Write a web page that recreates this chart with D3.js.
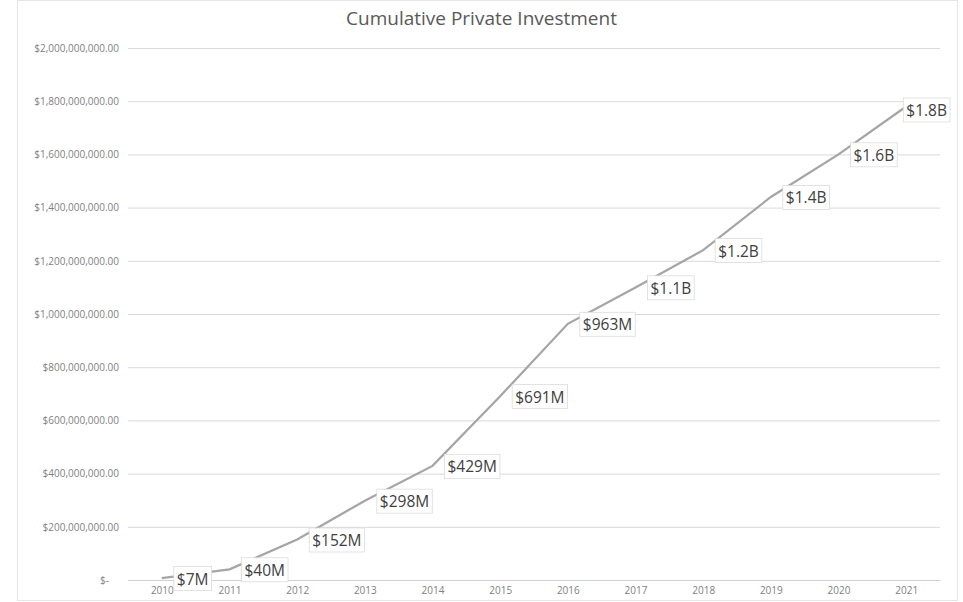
<!DOCTYPE html>
<html>
<head>
<meta charset="utf-8">
<script src="https://cdn.jsdelivr.net/npm/d3@7"></script>
<style>
  body { margin: 0; background: #fff; }
  text { font-family: "Open Sans", "Liberation Sans", sans-serif; }
</style>
</head>
<body>
<div id="viz_container"></div>
<script>
// data
const years = ["2010", "2011", "2012", "2013", "2014", "2015", "2016", "2017", "2018", "2019", "2020", "2021"];
const cumulative = [7e6, 40e6, 152e6, 298e6, 429e6, 691e6, 963e6, 1.10e9, 1.24e9, 1.44e9, 1.60e9, 1.78e9];
const valueLabels = ["$7M", "$40M", "$152M", "$298M", "$429M", "$691M", "$963M", "$1.1B", "$1.2B", "$1.4B", "$1.6B", "$1.8B"];
const yTicks = [0, 2e8, 4e8, 6e8, 8e8, 1e9, 1.2e9, 1.4e9, 1.6e9, 1.8e9, 2e9];

const W = 963, H = 602;
const margin = {top: 48, right: 23, bottom: 22, left: 128};

const svg = d3.select("#viz_container")
  .append("svg")
    .attr("width", W)
    .attr("height", H);

// outer chart border
svg.append("rect")
  .attr("x", 17.5).attr("y", 0.5)
  .attr("width", 940).attr("height", 600)
  .attr("fill", "none")
  .attr("stroke", "#e6e6e6");

const x = d3.scalePoint()
  .domain(years)
  .range([margin.left, W - margin.right])
  .padding(0.5);

const y = d3.scaleLinear()
  .domain([0, 2e9])
  .range([H - margin.bottom, margin.top]);

// currency format like Excel: $2,000,000,000.00, zero shown as $-
const money = d3.format("$,.2f");
const yFmt = v => v === 0 ? "$-" : money(v);

// gridlines + y labels
const yAxis = svg.append("g")
  .attr("transform", `translate(${margin.left},0)`)
  .call(d3.axisLeft(y).tickValues(yTicks).tickSize(-(W - margin.left - margin.right)).tickPadding(9).tickFormat(yFmt))
  .call(g => g.select(".domain").remove());
yAxis.selectAll(".tick line").attr("stroke", "#d9d9d9");
yAxis.selectAll(".tick text").attr("fill", "#7f7f7f").style("font-size", "10px");
yAxis.select(".tick:first-of-type text").attr("dx", -10);

// x axis
const xAxis = svg.append("g")
  .attr("transform", `translate(0,${H - margin.bottom})`)
  .call(d3.axisBottom(x).tickSize(0).tickPadding(7));
xAxis.select(".domain").attr("stroke", "#d0d0d0");
xAxis.selectAll(".tick text").attr("fill", "#7f7f7f").style("font-size", "10px");

// line
svg.append("path")
  .datum(cumulative)
  .attr("fill", "none")
  .attr("stroke", "#a5a5a5")
  .attr("stroke-width", 2.25)
  .attr("d", d3.line()
    .x((d, i) => x(years[i]))
    .y(d => y(d)));

// data labels with white box, placed right of each point
const labels = svg.append("g")
  .selectAll("g")
  .data(cumulative)
  .join("g");

labels.append("text")
  .attr("dy", "0.35em")
  .attr("fill", "#404040")
  .style("font-size", "15.5px")
  .text((d, i) => valueLabels[i]);

labels.insert("rect", "text")
  .each(function() {
    const bb = this.parentNode.querySelector("text").getBBox();
    d3.select(this)
      .attr("x", bb.x - 3).attr("y", bb.y - 1)
      .attr("width", bb.width + 6).attr("height", bb.height + 2);
  })
  .attr("fill", "#fff")
  .attr("stroke", "#d9d9d9")
  .attr("stroke-width", 0.75);

// keep the last label inside the chart, like Excel does
labels.attr("transform", function(d, i) {
  const w = this.getBBox().width;
  let lx = x(years[i]) + 15;
  let ly = y(d) + 1;
  if (lx + w > W - 10) { lx = W - 10 - w; ly = y(d) + 4; }
  return `translate(${lx},${ly})`;
});

// title
svg.append("text")
  .attr("x", W / 2)
  .attr("y", 25)
  .attr("text-anchor", "middle")
  .attr("fill", "#595959")
  .style("font-size", "19px")
  .text("Cumulative Private Investment");
</script>
</body>
</html>
